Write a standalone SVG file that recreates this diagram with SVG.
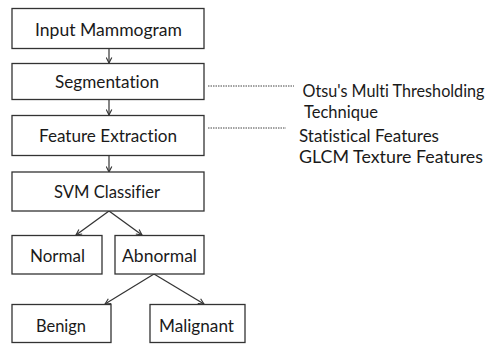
<svg xmlns="http://www.w3.org/2000/svg" width="496" height="344" viewBox="0 0 496 344">
  <style>
    .box { fill: #ffffff; stroke: #333333; stroke-width: 1.3; }
    .lbl { font-family: Lato, "Open Sans", "Liberation Sans", sans-serif; font-size: 17px; fill: #1a1a1a; text-anchor: middle; font-variant-ligatures: none; }
    .side { font-family: Lato, "Open Sans", "Liberation Sans", sans-serif; font-size: 17px; fill: #1a1a1a; font-variant-ligatures: none; }
    .arrow { stroke: #333333; stroke-width: 1.2; fill: none; marker-end: url(#head); }
    .dot { stroke: #444444; stroke-width: 1; stroke-dasharray: 1.5 1; fill: none; }
  </style>
  <defs>
    <marker id="head" viewBox="0 0 10 10" refX="9" refY="5" markerWidth="7" markerHeight="7" markerUnits="userSpaceOnUse" orient="auto">
      <path d="M1,1 L9,5 L1,9" fill="none" stroke="#333333" stroke-width="1.6"/>
    </marker>
  </defs>
  <rect width="496" height="344" fill="#ffffff"/>

  <g id="connectors">
    <line class="arrow" x1="109" y1="48.5" x2="109" y2="63"/>
    <line class="arrow" x1="109" y1="99.5" x2="109" y2="115"/>
    <line class="arrow" x1="109" y1="155.5" x2="109" y2="172"/>
    <line class="arrow" x1="109" y1="211" x2="76" y2="235"/>
    <line class="arrow" x1="109" y1="211" x2="142" y2="235"/>
    <line class="arrow" x1="154" y1="274" x2="105" y2="304"/>
    <line class="arrow" x1="154" y1="274" x2="204" y2="304"/>
    <line class="dot" x1="208" y1="86" x2="294" y2="86"/>
    <line class="dot" x1="208" y1="128" x2="286" y2="128"/>
  </g>

  <g id="input">
    <rect class="box" x="12" y="8.5" width="192" height="40"/>
    <text class="lbl" x="108.5" y="35.7" textLength="147" lengthAdjust="spacingAndGlyphs">Input Mammogram</text>
  </g>
  <g id="segmentation">
    <rect class="box" x="12" y="63.5" width="192" height="36"/>
    <text class="lbl" x="107" y="87.7" textLength="104" lengthAdjust="spacingAndGlyphs">Segmentation</text>
  </g>
  <g id="feature-extraction">
    <rect class="box" x="12" y="115.5" width="192" height="40"/>
    <text class="lbl" x="108" y="141.7" textLength="138" lengthAdjust="spacingAndGlyphs">Feature Extraction</text>
  </g>
  <g id="svm">
    <rect class="box" x="12" y="172" width="192" height="39"/>
    <text class="lbl" x="107" y="198.3" textLength="106" lengthAdjust="spacingAndGlyphs">SVM Classifier</text>
  </g>
  <g id="normal">
    <rect class="box" x="12" y="235.5" width="90" height="38.5"/>
    <text class="lbl" x="57.5" y="261.7" textLength="55" lengthAdjust="spacingAndGlyphs">Normal</text>
  </g>
  <g id="abnormal">
    <rect class="box" x="115" y="235.5" width="89" height="38.5"/>
    <text class="lbl" x="159.5" y="261.7" textLength="75" lengthAdjust="spacingAndGlyphs">Abnormal</text>
  </g>
  <g id="benign">
    <rect class="box" x="12" y="304.5" width="99" height="38"/>
    <text class="lbl" x="61" y="331.7" textLength="50" lengthAdjust="spacingAndGlyphs">Benign</text>
  </g>
  <g id="malignant">
    <rect class="box" x="150" y="304.5" width="95" height="38"/>
    <text class="lbl" x="196.5" y="331.7" textLength="75" lengthAdjust="spacingAndGlyphs">Malignant</text>
  </g>

  <g id="segmentation-note">
    <text class="side" x="302.5" y="96.7" font-size="16" textLength="182" lengthAdjust="spacingAndGlyphs">Otsu's Multi Thresholding</text>
    <text class="side" x="304" y="118.3" textLength="74" lengthAdjust="spacingAndGlyphs">Technique</text>
  </g>
  <g id="feature-note">
    <text class="side" x="299" y="141.7" textLength="140" lengthAdjust="spacingAndGlyphs">Statistical Features</text>
    <text class="side" x="299" y="163.3" textLength="184" lengthAdjust="spacingAndGlyphs">GLCM Texture Features</text>
  </g>
</svg>
